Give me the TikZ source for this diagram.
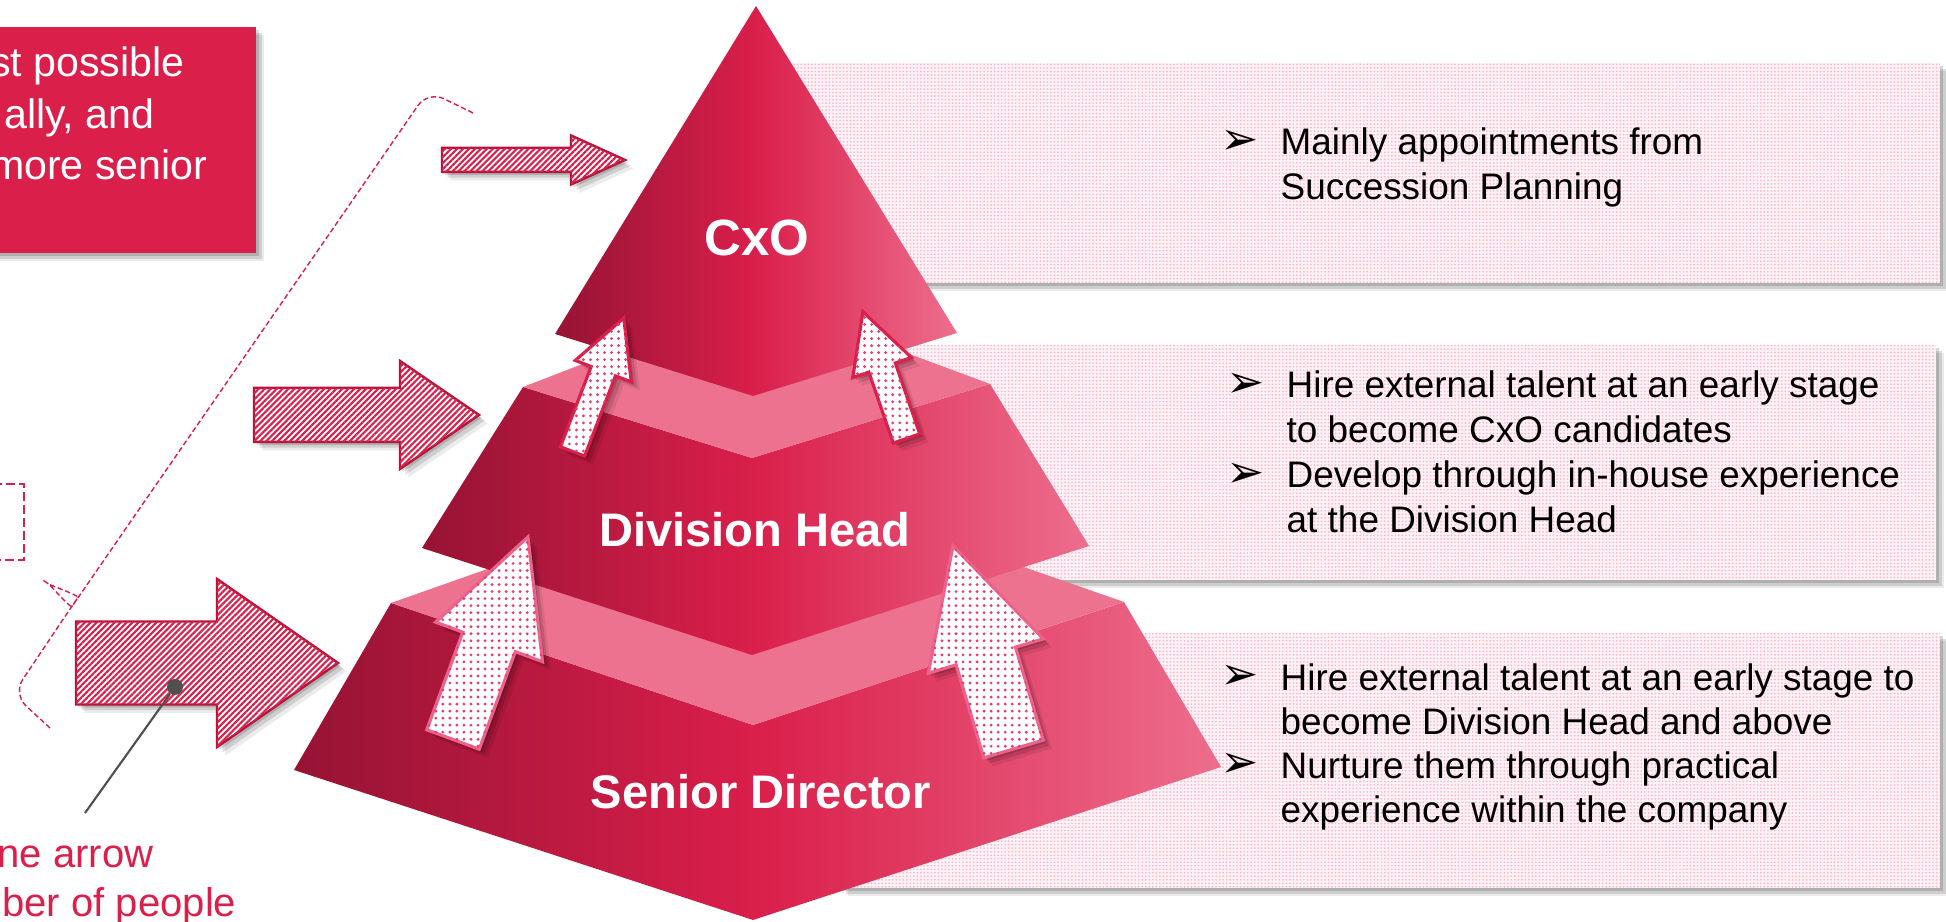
\documentclass[tikz,border=0pt]{standalone}
\usepackage{fontspec}
\setmainfont{Liberation Sans}
\newfontfamily\dejavu{DejaVu Sans}
\usetikzlibrary{patterns.meta,shadows}

\definecolor{crim}{RGB}{218,31,75}
\definecolor{crimdark}{RGB}{150,19,52}
\definecolor{crimlight}{RGB}{237,110,141}
\definecolor{tierface}{RGB}{237,114,143}
\definecolor{panelbase}{RGB}{254,242,246}
\definecolor{hatchedge}{RGB}{180,20,56}
\definecolor{dotpink}{RGB}{232,60,110}
\definecolor{calloutgray}{RGB}{80,80,80}

% block arrow pointing along +x: length, shaft half width, head half width, head length
\newcommand{\blockarrow}[4]{(0,-#2) -- ({#1-#4},-#2) -- ({#1-#4},-#3) -- (#1,0) -- ({#1-#4},#3) -- ({#1-#4},#2) -- (0,#2) -- cycle}

\tikzset{
  softshadow/.style={
    general shadow={shadow xshift=2.4pt,shadow yshift=-2.4pt,opacity=.08,fill=black},
    general shadow={shadow xshift=1.6pt,shadow yshift=-1.6pt,opacity=.12,fill=black},
    general shadow={shadow xshift=.8pt,shadow yshift=-.8pt,opacity=.15,fill=black}},
  panel/.style={softshadow,fill=panelbase,postaction={pattern={Dots[distance=1pt,radius=.28pt]},pattern color=dotpink!35}},
  redbox/.style={softshadow,fill=crim},
  hatcharrow/.style={softshadow,draw=hatchedge,line width=.7pt,fill=white,
    postaction={pattern={Lines[angle=45,distance=1.2pt,line width=.6pt]},pattern color=crim}},
  dotarrow/.style={softshadow,line width=.9pt,fill=white,
    postaction={pattern={Dots[distance=2pt,radius=.45pt]},pattern color=dotpink}},
  tier/.style={left color=crimdark,right color=crimlight,middle color=crim},
  topface/.style={fill=tierface},
  tierlabel/.style={text=white,font=\bfseries\fontsize{13.4}{16}\selectfont},
  boxtext/.style={anchor=base east,inner sep=0,text=white,font=\fontsize{11.7}{14.6}\selectfont},
  notetext/.style={anchor=base east,inner sep=0,text=crim,font=\fontsize{11.4}{14}\selectfont},
  bul/.style={anchor=base west,inner sep=0,font=\dejavu\fontsize{13}{13}\selectfont},
  item/.style={anchor=base west,inner sep=0,align=left,font=\fontsize{10.5}{12.8}\selectfont},
  braceline/.style={draw=crim,line width=.4pt,dash pattern=on 1.5pt off .8pt},
}

\begin{document}
\begin{tikzpicture}
\useasboundingbox (0,0) rectangle (19.46,9.22);
\clip (0,0) rectangle (19.46,9.22);

% text panels on the right
\path[panel] (7.70,6.39) rectangle (19.40,8.59);
\path[panel] (8.50,3.42) rectangle (19.36,5.77);
\path[panel] (8.40,0.34) rectangle (19.40,2.89);

% items: node base is the second line, bullet sits on the first
\node[bul] (b1) at (12.20,7.67) {➢};
\node[item] (t1) at (12.80,7.22) {Mainly appointments from\\Succession Planning};
\node[bul] (b2) at (12.26,5.24) {➢};
\node[item] (t2) at (12.86,4.79) {Hire external talent at an early stage\\to become CxO candidates};
\node[bul] (b3) at (12.26,4.34) {➢};
\node[item] (t3) at (12.86,3.89) {Develop through in-house experience\\at the Division Head};
\node[bul] (b4) at (12.20,2.32) {➢};
\node[item] (t4) at (12.80,1.87) {Hire external talent at an early stage to\\become Division Head and above};
\node[bul] (b5) at (12.20,1.44) {➢};
\node[item] (t5) at (12.80,0.99) {Nurture them through practical\\experience within the company};

% red box top left
\path[redbox] (-1,6.69) rectangle (2.56,8.95);
\node[boxtext] (l1) at (1.85,8.45) {st possible};
\node[boxtext] (l2) at (1.55,7.93) {ally, and};
\node[boxtext] (l3) at (2.08,7.42) {more senior};

% dashed box and brace
\draw[crim,line width=.8pt,dash pattern=on 2.5pt off 1.2pt] (-1,3.62) rectangle (0.24,4.38);
\draw[braceline,rounded corners=5pt] (4.73,8.09) -- (4.28,8.31) -- (0.82,3.30)
  to[out=235.5,in=-34.5] (0.34,3.48) to[out=-34.5,in=55.5] (0.68,3.10) -- (0.13,2.28) -- (0.50,1.94);

% hatched arrows
\draw[hatcharrow,shift={(4.42,7.62)}] \blockarrow{1.83}{.12}{.245}{.54};
\draw[hatcharrow,shift={(2.54,5.07)}] \blockarrow{2.25}{.27}{.54}{.79};
\draw[hatcharrow,shift={(0.76,2.59)}] \blockarrow{2.62}{.415}{.84}{1.21};

% callout
\node[circle,fill=calloutgray,inner sep=0,minimum size=.16cm] (dot) at (1.75,2.35) {};
\coordinate (dotend) at (0.85,1.09);
\draw[calloutgray,line width=.6pt] (dot) -- (dotend);
\node[notetext] (n1) at (1.54,0.54) {ne arrow};
\node[notetext] (n2) at (2.37,0.05) {ber of people};

% pyramid
\path[tier] (3.91,3.19) -- (7.53,1.97) -- (11.24,3.20) -- (12.21,1.55) -- (7.53,0.02) -- (2.94,1.52) -- cycle;
\path[topface] (3.91,3.19) -- (7.57,4.48) -- (11.24,3.20) -- (7.53,1.97) -- cycle;
\path[tier] (5.23,5.35) -- (7.52,4.64) -- (9.90,5.38) -- (10.89,3.76) -- (7.52,2.67) -- (4.22,3.74) -- cycle;
\path[topface] (5.23,5.35) -- (7.56,6.25) -- (9.90,5.38) -- (7.52,4.64) -- cycle;
\path[tier] (7.56,9.16) -- (9.57,5.89) -- (7.53,5.26) -- (5.55,5.88) -- cycle;

% dotted arrows going up
\draw[dotarrow,draw=crim,shift={(5.725,4.705)},rotate=69] \blockarrow{1.43}{.13}{.30}{.57};
\draw[dotarrow,draw=crim,shift={(9.065,4.835)},rotate=109] \blockarrow{1.34}{.14}{.31}{.59};
\draw[dotarrow,draw=dotpink!80,shift={(4.53,1.825)},rotate=69.7] \blockarrow{2.16}{.28}{.57}{1.12};
\draw[dotarrow,draw=dotpink!80,shift={(10.135,1.73)},rotate=106.6] \blockarrow{2.12}{.31}{.60}{1.15};

\node[tierlabel,font=\bfseries\fontsize{14.5}{17}\selectfont] (cxo) at (7.57,6.84) {CxO};
\node[tierlabel] (div) at (7.55,3.92) {Division Head};
\node[tierlabel] (sen) at (7.61,1.30) {Senior Director};
\end{tikzpicture}
\end{document}
